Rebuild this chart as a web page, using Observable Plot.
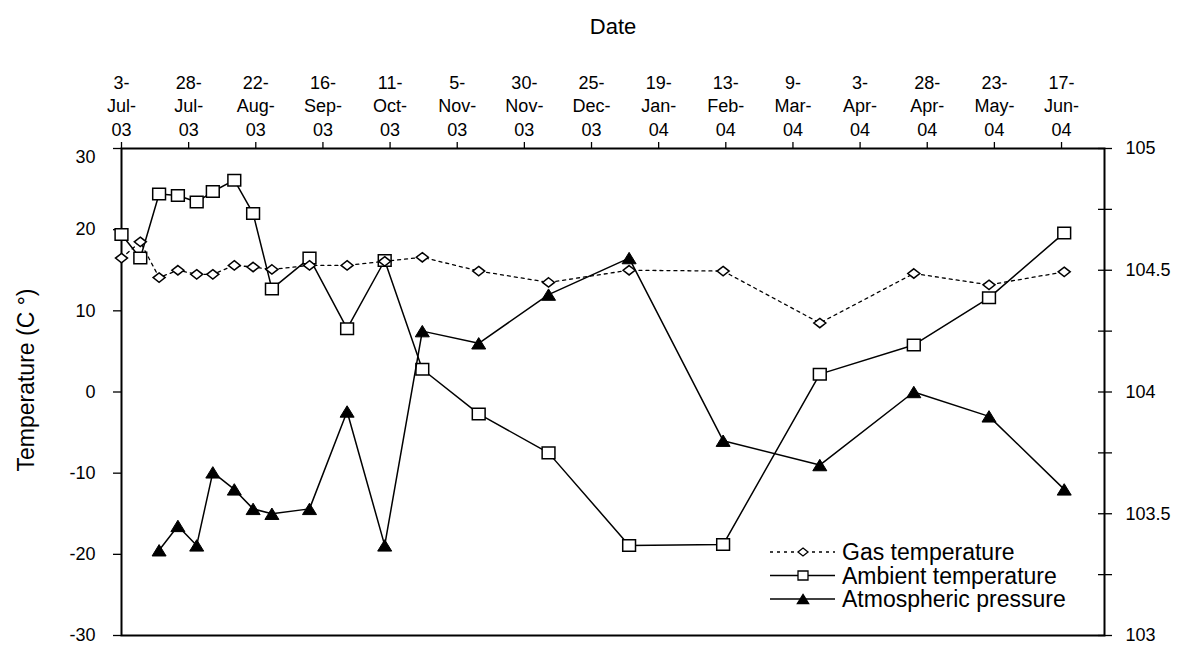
<!DOCTYPE html>
<html><head><meta charset="utf-8">
<script src="https://cdn.jsdelivr.net/npm/d3@7"></script>
<script src="https://cdn.jsdelivr.net/npm/@observablehq/plot@0.6"></script>
<style>
html,body{margin:0;padding:0;background:#fff;}
#wrap{position:relative;width:1179px;height:647px;overflow:hidden;font-family:"Liberation Sans",Arial,sans-serif;}
#legend{position:absolute;left:0;top:0;pointer-events:none;}
</style></head><body><div id="wrap"></div>
<script>
// ---- data ----
const dates = ["2003-07-03","2003-07-10","2003-07-17","2003-07-24","2003-07-31","2003-08-06","2003-08-14","2003-08-21","2003-08-28","2003-09-11","2003-09-25","2003-10-09","2003-10-23","2003-11-13","2003-12-09","2004-01-08","2004-02-12","2004-03-19","2004-04-23","2004-05-21","2004-06-18"];
const gasTemp = [16.5,18.5,14.1,15.0,14.5,14.5,15.6,15.4,15.1,15.6,15.6,16.1,16.6,14.9,13.5,15.0,14.9,8.5,14.6,13.2,14.8];
const ambientTemp = [19.4,16.5,24.4,24.2,23.4,24.7,26.1,22.0,12.7,16.5,7.8,16.2,2.8,-2.7,-7.5,-18.9,-18.8,2.2,5.8,11.6,19.6];
const pressure = [null,null,103.35,103.45,103.37,103.67,103.60,103.52,103.50,103.52,103.92,103.37,104.25,104.20,104.40,104.55,103.80,103.70,104.00,103.90,103.60];
const xTickLabels = ["3-Jul-03","28-Jul-03","22-Aug-03","16-Sep-03","11-Oct-03","5-Nov-03","30-Nov-03","25-Dec-03","19-Jan-04","13-Feb-04","9-Mar-04","3-Apr-04","28-Apr-04","23-May-04","17-Jun-04"];
const xDomain = ["2003-07-03","2004-07-03"];
const tempTicks = [-30,-20,-10,0,10,20,30];
const tempDomain = [-30,30];
const pressureDomain = [103,105];
const pressureTicks = [103,103.25,103.5,103.75,104,104.25,104.5,104.75,105];
const pressureLabels = [103,103.5,104,104.5,105];
const seriesNames = ["Gas temperature","Ambient temperature","Atmospheric pressure"];
const xTitle = "Date";
const yTitle = "Temperature (C \u00B0)";

// ---- helpers ----
const parseTick = d3.utcParse("%d-%b-%y");
const tickDates = xTickLabels.map(parseTick);
const tickLabelByTime = new Map(tickDates.map((d, i) => [+d, xTickLabels[i]]));
const toTemp = p => tempDomain[0] + (p - pressureDomain[0]) / (pressureDomain[1] - pressureDomain[0]) * (tempDomain[1] - tempDomain[0]);
const fromTemp = t => pressureDomain[0] + (t - tempDomain[0]) / (tempDomain[1] - tempDomain[0]) * (pressureDomain[1] - pressureDomain[0]);

const rows = dates.map((d, i) => ({
  date: new Date(d + "T00:00:00Z"),
  gas: gasTemp[i],
  ambient: ambientTemp[i],
  pressureT: pressure[i] == null ? null : toTemp(pressure[i])
}));
const pressureRows = rows.filter(d => d.pressureT != null);

const squareSym = {draw(ctx, size) { const s = Math.sqrt(size / Math.PI); ctx.moveTo(-s, -0.9*s); ctx.lineTo(s, -0.9*s); ctx.lineTo(s, 0.9*s); ctx.lineTo(-s, 0.9*s); ctx.closePath(); }};
const diamondSym = {draw(ctx, size) { const s = Math.sqrt(size / Math.PI); ctx.moveTo(0, -0.78*s); ctx.lineTo(s, 0); ctx.lineTo(0, 0.78*s); ctx.lineTo(-s, 0); ctx.closePath(); }};
const triangleSym = {draw(ctx, size) { const s = Math.sqrt(size / Math.PI); ctx.moveTo(0, -0.92*s); ctx.lineTo(1.13*s, 0.92*s); ctx.lineTo(-1.13*s, 0.92*s); ctx.closePath(); }};

const font = '"Liberation Sans", Arial, sans-serif';

const chart = Plot.plot({
  width: 1179,
  height: 647,
  marginTop: 148,
  marginBottom: 12,
  marginLeft: 121,
  marginRight: 75,
  style: {fontFamily: font, fontSize: "18px", color: "black", background: "white"},
  x: {type: "utc", domain: xDomain.map(d => new Date(d + "T00:00:00Z"))},
  y: {domain: tempDomain},
  marks: [
    Plot.frame({stroke: "black", strokeWidth: 2}),
    Plot.axisX({anchor: "top", ticks: tickDates, tickFormat: d => tickLabelByTime.get(+d).replace(/-/g, "-\n"), tickSize: 7, tickPadding: 6, lineHeight: 1.28, label: null, strokeWidth: 1.3}),
    Plot.axisY({anchor: "left", ticks: tempTicks, tickSize: 8, fill: "none", label: null, strokeWidth: 1.3}),
    Plot.axisY({anchor: "left", ticks: tempTicks.slice(0, -1), tickSize: 0, tickPadding: 26, tickFormat: d => String(d), label: null}),
    Plot.axisY({anchor: "left", ticks: tempTicks.slice(-1), tickSize: 0, tickPadding: 26, dy: 9, tickFormat: d => String(d), label: null}),
    Plot.axisY({anchor: "right", ticks: pressureTicks.map(toTemp), tickSize: 14, dx: -7, fill: "none", label: null, strokeWidth: 1.3}),
    Plot.axisY({anchor: "right", ticks: pressureLabels.map(toTemp), tickSize: 0, tickPadding: 21, tickFormat: t => String(+fromTemp(t).toFixed(2)), label: null}),
    Plot.text([xTitle], {frameAnchor: "top", dx: 0, dy: -115, lineAnchor: "bottom", fontSize: 22}),
    Plot.text([yTitle], {frameAnchor: "left", rotate: -90, dx: -88, dy: -12, lineAnchor: "bottom", textAnchor: "middle", fontSize: 23}),
    Plot.line(rows, {x: "date", y: "ambient", stroke: "black", strokeWidth: 1.5}),
    Plot.dot(rows, {x: "date", y: "ambient", symbol: squareSym, r: 6.4, fill: "white", stroke: "black", strokeWidth: 1.5}),
    Plot.line(rows, {x: "date", y: "gas", stroke: "black", strokeWidth: 1.3, strokeDasharray: "3,4"}),
    Plot.dot(rows, {x: "date", y: "gas", symbol: diamondSym, r: 6, fill: "white", stroke: "black", strokeWidth: 1.5}),
    Plot.line(pressureRows, {x: "date", y: "pressureT", stroke: "black", strokeWidth: 1.5}),
    Plot.dot(pressureRows, {x: "date", y: "pressureT", symbol: triangleSym, r: 6.2, fill: "black", stroke: "black", strokeWidth: 1})
  ]
});
const wrap = document.getElementById("wrap");
wrap.appendChild(chart);

// ---- legend (overlay) ----
const lg = d3.select(wrap).append("svg").attr("id", "legend").attr("width", 1179).attr("height", 647);
const legendItems = [
  {name: seriesNames[0], sym: diamondSym, fill: "white", dash: "3,4"},
  {name: seriesNames[1], sym: squareSym, fill: "white", dash: null},
  {name: seriesNames[2], sym: triangleSym, fill: "black", dash: null}
];
legendItems.forEach((it, i) => {
  const base = 560 + i * 23.5;
  const cy = base - 8;
  const g = lg.append("g");
  g.append("line").attr("x1", 770).attr("x2", 835).attr("y1", cy).attr("y2", cy)
    .attr("stroke", "black").attr("stroke-width", 1.5).attr("stroke-dasharray", it.dash);
  g.append("path").attr("transform", `translate(803,${cy})`)
    .attr("d", d3.symbol(it.sym, Math.PI * 25)())
    .attr("fill", it.fill).attr("stroke", "black").attr("stroke-width", 1.3);
  g.append("text").attr("x", 842).attr("y", base).attr("font-family", font).attr("font-size", 23).text(it.name);
});
</script></body></html>
